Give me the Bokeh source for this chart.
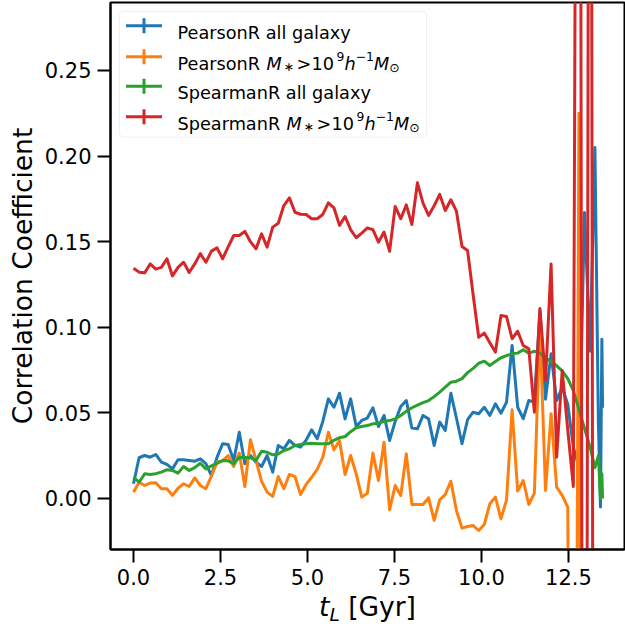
from bokeh.plotting import figure
from bokeh.models import Range1d, FixedTicker, PrintfTickFormatter, Label, BoxAnnotation, Div
from bokeh.layouts import column
from bokeh.embed import file_html
from bokeh.resources import INLINE

# lookback time of each snapshot [Gyr]
t_gyr = [
    0.00, 0.16, 0.32, 0.48, 0.64, 0.80, 0.96, 1.12, 1.28, 1.44,
    1.60, 1.76, 1.92, 2.08, 2.24, 2.40, 2.56, 2.72, 2.88, 3.04,
    3.20, 3.36, 3.52, 3.68, 3.84, 4.00, 4.16, 4.32, 4.48, 4.64,
    4.80, 4.96, 5.12, 5.28, 5.44, 5.60, 5.76, 5.92, 6.08, 6.24,
    6.40, 6.56, 6.72, 6.88, 7.04, 7.20, 7.36, 7.52, 7.68, 7.84,
    8.00, 8.16, 8.32, 8.48, 8.64, 8.80, 8.96, 9.12, 9.28, 9.44,
    9.60, 9.76, 9.92, 10.08, 10.24, 10.40, 10.56, 10.72, 10.88, 11.04,
    11.20, 11.36, 11.52, 11.68, 11.84, 12.00, 12.16, 12.32, 12.48, 12.64,
    12.80, 12.96, 13.12, 13.26, 13.36, 13.42, 13.46, 13.48,
]

pearson_all = [
    0.0086, 0.0238, 0.0251, 0.0241, 0.0257, 0.0212, 0.0199, 0.0173, 0.0226, 0.0226,
    0.0222, 0.0218, 0.0232, 0.0203, 0.0134, 0.0240, 0.0320, 0.0315, 0.0222, 0.0387,
    0.0203, 0.0251, 0.0212, 0.0187, 0.0251, 0.0154, 0.0310, 0.0290, 0.0339, 0.0310,
    0.0300, 0.0340, 0.0401, 0.0349, 0.0450, 0.0582, 0.0533, 0.0615, 0.0465, 0.0582,
    0.0420, 0.0456, 0.0470, 0.0530, 0.0420, 0.0485, 0.0339, 0.0450, 0.0537, 0.0572,
    0.0411, 0.0407, 0.0485, 0.0465, 0.0310, 0.0446, 0.0397, 0.0615, 0.0470, 0.0320,
    0.0460, 0.0504, 0.0495, 0.0533, 0.0485, 0.0553, 0.0498, 0.0563, 0.0894, 0.0533,
    0.0466, 0.0572, 0.0563, 0.1094, 0.0580, 0.0845, 0.0572, 0.0647, 0.0550, 0.0300,
    0.0180, 0.1670, 0.0860, 0.2050, 0.0440, -0.0050, 0.0930, 0.0530,
]

pearson_massive = [
    0.0037, 0.0095, 0.0076, 0.0090, 0.0092, 0.0057, 0.0057, 0.0018, 0.0060, 0.0086,
    0.0070, 0.0121, 0.0076, 0.0057, 0.0130, 0.0212, 0.0220, 0.0251, 0.0187, 0.0265,
    0.0070, 0.0343, 0.0222, 0.0100, 0.0037, 0.0012, 0.0128, 0.0057, 0.0140, 0.0128,
    0.0023, 0.0082, 0.0124, 0.0170, 0.0241, 0.0387, 0.0284, 0.0339, 0.0140, 0.0251,
    0.0144, 0.0008, 0.0031, 0.0265, 0.0105, 0.0329, -0.0066, 0.0076, 0.0018, 0.0261,
    -0.0035, -0.0035, -0.0035, 0.0004, -0.0128, -0.0008, 0.0023, 0.0101, -0.0070, -0.0173,
    -0.0164, -0.0158, -0.0187, -0.0152, -0.0031, 0.0008, -0.0119, -0.0008, 0.0518, 0.0043,
    0.0105, -0.0035, 0.0031, 0.1000, 0.0047, 0.0495, 0.0066, 0.0018, -0.0050, -0.6000,
    0.2250, -0.8000, -0.2000, -0.3000, -0.2000, -0.2500, -0.2000, -0.2000,
]

spearman_all = [
    0.0124, 0.0095, 0.0144, 0.0140, 0.0145, 0.0154, 0.0168, 0.0164, 0.0148, 0.0187,
    0.0164, 0.0180, 0.0206, 0.0173, 0.0190, 0.0205, 0.0222, 0.0220, 0.0203, 0.0241,
    0.0240, 0.0238, 0.0222, 0.0276, 0.0270, 0.0255, 0.0260, 0.0280, 0.0290, 0.0310,
    0.0315, 0.0320, 0.0323, 0.0320, 0.0320, 0.0320, 0.0340, 0.0355, 0.0362, 0.0390,
    0.0413, 0.0420, 0.0426, 0.0436, 0.0440, 0.0450, 0.0455, 0.0465, 0.0485, 0.0510,
    0.0530, 0.0545, 0.0560, 0.0572, 0.0595, 0.0621, 0.0650, 0.0679, 0.0685, 0.0700,
    0.0735, 0.0760, 0.0790, 0.0802, 0.0777, 0.0800, 0.0822, 0.0835, 0.0845, 0.0849,
    0.0869, 0.0849, 0.0860, 0.0849, 0.0820, 0.0800, 0.0775, 0.0745, 0.0700, 0.0630,
    0.0520, 0.0410, 0.0300, 0.0180, 0.0250, 0.0000, 0.0144, 0.0000,
]

spearman_massive = [
    0.1345, 0.1322, 0.1318, 0.1370, 0.1340, 0.1350, 0.1400, 0.1300, 0.1350, 0.1380,
    0.1320, 0.1370, 0.1430, 0.1380, 0.1445, 0.1464, 0.1400, 0.1470, 0.1536, 0.1536,
    0.1560, 0.1500, 0.1458, 0.1546, 0.1468, 0.1585, 0.1608, 0.1711, 0.1756, 0.1672,
    0.1660, 0.1659, 0.1634, 0.1634, 0.1659, 0.1727, 0.1698, 0.1595, 0.1647, 0.1570,
    0.1523, 0.1550, 0.1580, 0.1570, 0.1497, 0.1556, 0.1443, 0.1706, 0.1634, 0.1715,
    0.1600, 0.1844, 0.1725, 0.1653, 0.1710, 0.1776, 0.1682, 0.1745, 0.1678, 0.1472,
    0.1449, 0.1190, 0.0942, 0.0966, 0.0910, 0.0855, 0.1069, 0.1063, 0.0933, 0.0977,
    0.0894, 0.0874, 0.0504, 0.1110, 0.0690, 0.1370, 0.0241, 0.0748, 0.0400, 0.0070,
    0.9500, -0.9000, 0.9000, -0.8500, -0.8000, -0.8000, -0.8000, -0.8000,
]

series = [pearson_all, pearson_massive, spearman_all, spearman_massive]
colors = ["#1f77b4", "#ff7f0e", "#2ca02c", "#d62728"]

x_ticks = [0.0, 2.5, 5.0, 7.5, 10.0, 12.5]
y_ticks = [0.00, 0.05, 0.10, 0.15, 0.20, 0.25]

FONT = "DejaVu Sans"
X0, X1 = -0.661, 14.11
Y0, Y1 = -0.0298, 0.2897
W, H = 625, 595
LEFT, RIGHT, TOP, BOTTOM = 110, 1, 2, 46
FW = W - LEFT - RIGHT
FH = H - TOP - BOTTOM


def dx(px):
    """canvas pixel column -> data x"""
    return X0 + (px - LEFT) * (X1 - X0) / FW


def dy(py):
    """canvas pixel row -> data y"""
    return Y1 - (py - TOP) * (Y1 - Y0) / FH


p = figure(
    width=W, height=H,
    x_range=Range1d(X0, X1), y_range=Range1d(Y0, Y1),
    output_backend="svg", toolbar_location=None,
    min_border_left=LEFT, min_border_right=RIGHT,
    min_border_top=TOP, min_border_bottom=BOTTOM,
)
p.xgrid.visible = False
p.ygrid.visible = False
p.outline_line_color = "black"
p.outline_line_width = 2
p.background_fill_color = "white"
p.border_fill_color = "white"

for ax in (p.xaxis[0], p.yaxis[0]):
    ax.axis_line_width = 2
    ax.axis_line_color = "black"
    ax.major_tick_out = 13
    ax.major_tick_in = 0
    ax.major_tick_line_width = 2
    ax.minor_tick_line_color = None
    ax.major_label_text_font = FONT
    ax.major_label_text_font_size = "21px"
    ax.major_label_text_color = "black"
    ax.major_label_standoff = 6

p.xaxis.ticker = FixedTicker(ticks=x_ticks)
p.yaxis.ticker = FixedTicker(ticks=y_ticks)
p.xaxis.formatter = PrintfTickFormatter(format="%.1f")
p.yaxis.formatter = PrintfTickFormatter(format="%.2f")

p.yaxis.axis_label = "Correlation Coefficient"
p.yaxis.axis_label_text_font = FONT
p.yaxis.axis_label_text_font_size = "26.5px"
p.yaxis.axis_label_text_font_style = "normal"
p.yaxis.axis_label_text_color = "black"
p.yaxis.axis_label_standoff = 4

for ys, c in zip(series, colors):
    p.line(t_gyr, ys, line_color=c, line_width=3, line_join="round")


def put(px, py, text, size, style="normal"):
    p.add_layout(Label(
        x=dx(px), y=dy(py), text=text,
        text_font=FONT, text_font_size=f"{size}px", text_font_style=style,
        text_baseline="alphabetic", text_align="left", text_color="black",
    ))


# legend frame
p.add_layout(BoxAnnotation(
    left=dx(119), right=dx(426), top=dy(10.8), bottom=dy(136.7),
    fill_color="white", fill_alpha=0.8, line_color="#cccccc", line_width=1,
    border_radius=4, level="underlay",
))

F, F2 = 17.7, 12.4
TX = 177
baselines = [32.3, 63.3, 92.7, 123.3]
names = ["PearsonR", "PearsonR", "SpearmanR", "SpearmanR"]
for i, (c, base, name) in enumerate(zip(colors, baselines, names)):
    yc = base - 7
    p.segment(x0=[dx(125.5)], y0=[dy(yc)], x1=[dx(161.5)], y1=[dy(yc)],
              line_color=c, line_width=3)
    p.segment(x0=[dx(143.5)], y0=[dy(yc - 7.5)], x1=[dx(143.5)], y1=[dy(yc + 7.5)],
              line_color=c, line_width=3)
    if i % 2 == 0:
        put(TX, base, name + " all galaxy", F)
        continue
    put(TX, base, name, F)
    s = 0 if name == "PearsonR" else 20
    put(TX + 89 + s, base, "M", F, "italic")
    put(TX + 106 + s, base + 3, "\u2217", F2)
    put(TX + 119 + s, base, ">", F)
    put(TX + 134 + s, base, "10", F)
    put(TX + 159 + s, base - 7.6, "9", F2)
    put(TX + 167 + s, base, "h", F, "italic")
    put(TX + 178.2 + s, base - 7.6, "\u22121", F2)
    put(TX + 196.5 + s, base, "M", F, "italic")
    put(TX + 211.8 + s, base + 3.5, "\u2299", F2)

# x axis label t_L [Gyr], set below the plot as HTML text
xlabel = Div(
    text=(
        "<div style=\"padding-left:319px; padding-top:2px; font-family:'DejaVu Sans';"
        " font-size:26.5px; line-height:20px; white-space:nowrap; color:black;\">"
        "<i>t<sub style=\"font-size:18.5px; vertical-align:-5px; line-height:0;\">L</sub></i>"
        " [Gyr]</div>"
    ),
    width=W, height=630 - H, margin=(0, 0, 0, 0),
)

layout = column(p, xlabel, spacing=0)
open("out.html", "w").write(file_html(layout, INLINE))
